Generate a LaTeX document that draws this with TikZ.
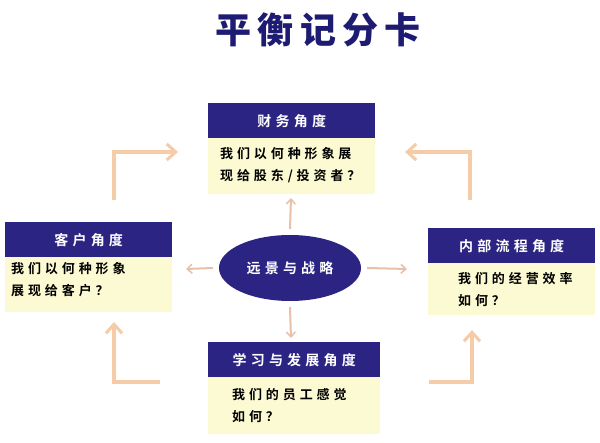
\documentclass[tikz,border=0pt]{standalone}
\usepackage{fontspec}
\newfontfamily\cjk[LetterSpace=30]{Noto Sans CJK SC Bold}
\newfontfamily\cjkb[LetterSpace=30]{Noto Sans CJK SC Bold}
\newfontfamily\cjkt[LetterSpace=18]{Noto Sans CJK SC Black}
\usetikzlibrary{arrows.meta,shapes.geometric}
\definecolor{navy}{HTML}{2B2483}
\definecolor{titlec}{HTML}{1E1C72}
\definecolor{bodyc}{HTML}{FCFAD2}
\definecolor{peach}{HTML}{F5CBA8}
\definecolor{tan}{HTML}{E8C0A8}
\tikzset{
 hdr/.style={fill=navy,text=white,minimum width=167pt,minimum height=35pt,inner sep=0pt,font=\cjkb\fontsize{14}{15}\selectfont},
 bdy/.style={fill=bodyc,minimum width=167pt,inner sep=0pt},
 txt/.style={font=\cjk\fontsize{13}{22}\selectfont,align=left,anchor=north west,inner sep=0pt},
 big/.style={draw=peach,line width=4pt,-{Straight Barb[length=9pt,width=16pt,line width=3pt]}},
 small/.style={draw=tan,line width=2pt,-{Straight Barb[length=5pt,width=9pt,line width=1.5pt]}}
}
\begin{document}
\begin{tikzpicture}[x=1pt,y=-1pt]
\useasboundingbox (0,0) rectangle (600,443);
\fill[white] (0,0) rectangle (600,443);
\node[text=titlec,font=\cjkt\fontsize{36}{38}\selectfont] (title) at (318,30) {平衡记分卡};
% top
\node[hdr,anchor=north west] (th) at (208,103) {财务角度};
\node[bdy,anchor=north west,minimum height=56pt] (tb) at (208,138) {};
\node[txt] (tt) at (220,147) {我们以何种形象展\\现给股东/投资者？};
% left
\node[hdr,anchor=north west] (lh) at (5,222) {客户角度};
\node[bdy,anchor=north west,minimum height=55pt] (lb) at (5,257) {};
\node[txt] (lt) at (11,262) {我们以何种形象\\展现给客户？};
% right
\node[hdr,anchor=north west] (rh) at (428,228) {内部流程角度};
\node[bdy,anchor=north west,minimum height=52pt] (rb) at (428,263) {};
\node[txt] (rt) at (458,272) {我们的经营效率\\如何？};
% bottom
\node[hdr,anchor=north west,minimum width=172pt] (bh) at (208,342) {学习与发展角度};
\node[bdy,anchor=north west,minimum height=57pt,minimum width=172pt] (bb) at (208,377) {};
\node[txt] (bt) at (232,388) {我们的员工感觉\\如何？};
% center
\node[ellipse,fill=navy,text=white,minimum width=142pt,minimum height=66pt,font=\cjkb\fontsize{14}{15}\selectfont] (c) at (290,268) {远景与战略};
% small arrows
\coordinate (su) at (291,198); \coordinate (sd) at (291,338);
\coordinate (sl) at (186,269); \coordinate (sr) at (407,269);
\draw[small] (c.north) ++(0,-6) coordinate (c1) (c1) -- (su);
\draw[small] (c.south) ++(0,6) coordinate (c2) (c2) -- (sd);
\draw[small] (c.west) ++(-6,0) coordinate (c3) (c3) -- (sl);
\draw[small] (c.east) ++(6,0) coordinate (c4) (c4) -- (sr);
% big arrows
\coordinate (a1) at (114,200); \coordinate (a1e) at (178,152);
\draw[big] (a1) |- (a1e);
\coordinate (a2) at (470,200); \coordinate (a2e) at (405,152);
\draw[big] (a2) |- (a2e);
\coordinate (a3) at (160,382); \coordinate (a3e) at (114,322);
\draw[big] (a3) -| (a3e);
\coordinate (a4) at (429,382); \coordinate (a4e) at (472,330);
\draw[big] (a4) -| (a4e);
\end{tikzpicture}
\end{document}
